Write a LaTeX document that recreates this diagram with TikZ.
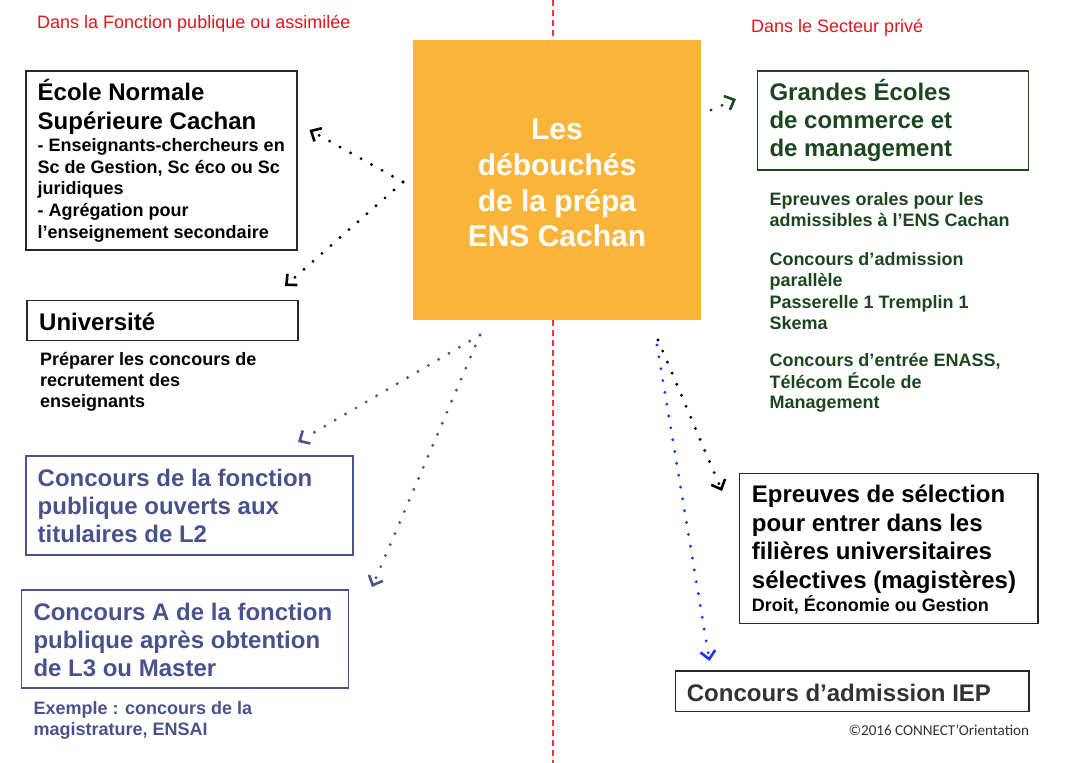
\documentclass[tikz,border=0pt]{standalone}
\usepackage{fontspec}
\setmainfont{Liberation Sans}
\newfontfamily\carlitofont{Carlito}
\usetikzlibrary{arrows.meta,calc}
\definecolor{orangebox}{RGB}{251,180,58}
\definecolor{headred}{RGB}{226,20,30}
\definecolor{sepred}{RGB}{228,60,60}
\definecolor{boxgray}{RGB}{40,40,40}
\definecolor{bluegray}{RGB}{72,82,140}
\definecolor{darkgreen}{RGB}{28,70,30}
\definecolor{arrowblue}{RGB}{30,50,250}
\definecolor{iepgray}{RGB}{50,50,50}
\tikzset{
  boxnode/.style={draw=boxgray, line width=1.4pt, anchor=north west, inner sep=0pt, outer sep=0pt},
  tbig/.style={font=\fontsize{24}{29}\selectfont\bfseries, anchor=base west, inner sep=0pt},
  tsub/.style={font=\fontsize{18}{21}\selectfont\bfseries, anchor=base west, inner sep=0pt},
  thead/.style={font=\fontsize{18}{21}\selectfont, text=headred, anchor=base west, inner sep=0pt},
  tcenter/.style={font=\fontsize{30}{36}\selectfont\bfseries, text=white, anchor=base, inner sep=0pt},
  dotline/.style={line width=3.2pt, line cap=round, dash pattern=on 0pt off 12pt, shorten >=8pt},
  tipline/.style={line width=2.6pt, solid, line cap=butt, -{Straight Barb[length=8pt,width=15pt]}},
}
\newcommand{\dotarrow}[3]{%
  \draw[dotline, #1] (#2) -- (#3);
  \draw[tipline, #1] ($(#3)!4pt!(#2)$) -- (#3);
}
\begin{document}
\begin{tikzpicture}[x=1pt,y=-1pt]
\useasboundingbox (0,0) rectangle (1080,763);

% separator
\coordinate (septop) at (553,0);
\coordinate (sepbot) at (553,763);
\draw[sepred, line width=1.2pt, dash pattern=on 6pt off 4pt] (septop) -- (sepbot);

% headers
\node[thead] (hleft) at (37,28) {Dans la Fonction publique ou assimilée};
\node[thead] (hright) at (751,32) {Dans le Secteur privé};

% central box
\node[fill=orangebox, anchor=north west, minimum width=288pt, minimum height=280pt, inner sep=0pt] (center) at (413,40) {};
\node[tcenter] (c1) at (557,139) {Les};
\node[tcenter] (c2) at (557,175.5) {débouchés};
\node[tcenter] (c3) at (557,211.5) {de la prépa};
\node[tcenter] (c4) at (557,246.5) {ENS Cachan};

% ENS box
\node[boxnode, minimum width=271pt, minimum height=179pt] (ens) at (26,71) {};
\node[tbig] (ens1) at (37.5,100) {École Normale};
\node[tbig] (ens2) at (37.5,129.3) {Supérieure Cachan};
\node[tsub] (ens3) at (37.5,151.7) {- Enseignants-chercheurs en};
\node[tsub] (ens4) at (37.5,173.3) {Sc de Gestion, Sc éco ou Sc};
\node[tsub] (ens5) at (37.5,194.5) {juridiques};
\node[tsub] (ens6) at (37.5,216) {- Agrégation pour};
\node[tsub] (ens7) at (37.5,238.3) {l’enseignement secondaire};

% Université
\node[boxnode, minimum width=271pt, minimum height=40pt] (univ) at (27,300.5) {};
\node[tbig] (univ1) at (39,330.7) {Université};
\node[tsub] (univ2) at (40,365) {Préparer les concours de};
\node[tsub] (univ3) at (40,386.3) {recrutement des};
\node[tsub] (univ4) at (40,407.5) {enseignants};

% Concours fonction publique L2
\node[boxnode, draw=bluegray, minimum width=327pt, minimum height=99pt] (cfp) at (26,456) {};
\node[tbig, text=bluegray] (cfp1) at (37.5,486) {Concours de la fonction};
\node[tbig, text=bluegray] (cfp2) at (37.5,514.3) {publique ouverts aux};
\node[tbig, text=bluegray] (cfp3) at (37.5,542.7) {titulaires de L2};

% Concours A
\node[boxnode, draw=bluegray, minimum width=327pt, minimum height=98pt] (cfa) at (21.7,590) {};
\node[tbig, text=bluegray] (cfa1) at (33.3,620) {Concours A de la fonction};
\node[tbig, text=bluegray] (cfa2) at (33.3,648.3) {publique après obtention};
\node[tbig, text=bluegray] (cfa3) at (33.3,676.7) {de L3 ou Master};
\node[tsub, text=bluegray] (cfa4) at (33.3,714) {Exemple : concours de la};
\node[tsub, text=bluegray] (cfa5) at (33.3,735) {magistrature, ENSAI};

% Grandes Ecoles
\node[boxnode, draw=darkgreen, minimum width=271pt, minimum height=99pt] (ge) at (757.7,71) {};
\node[tbig, text=darkgreen] (ge1) at (769.3,100) {Grandes Écoles};
\node[tbig, text=darkgreen] (ge2) at (769.3,128.3) {de commerce et};
\node[tbig, text=darkgreen] (ge3) at (769.3,156.7) {de management};
\node[tsub, text=darkgreen] (ge4) at (769.3,205.7) {Epreuves orales pour les};
\node[tsub, text=darkgreen] (ge5) at (769.3,226.5) {admissibles à l’ENS Cachan};
\node[tsub, text=darkgreen] (ge6) at (769.3,265) {Concours d’admission};
\node[tsub, text=darkgreen] (ge7) at (769.3,286.7) {parallèle};
\node[tsub, text=darkgreen] (ge8) at (769.3,308.3) {Passerelle 1 Tremplin 1};
\node[tsub, text=darkgreen] (ge9) at (769.3,329.3) {Skema};
\node[tsub, text=darkgreen] (ge10) at (769.3,366.7) {Concours d’entrée ENASS,};
\node[tsub, text=darkgreen] (ge11) at (769.3,388.3) {Télécom École de};
\node[tsub, text=darkgreen] (ge12) at (769.3,408.5) {Management};

% Epreuves de selection
\node[boxnode, minimum width=298.7pt, minimum height=150pt] (eps) at (739.3,473.3) {};
\node[tbig] (eps1) at (751.7,502.7) {Epreuves de sélection};
\node[tbig] (eps2) at (751.7,531) {pour entrer dans les};
\node[tbig] (eps3) at (751.7,559.3) {filières universitaires};
\node[tbig] (eps4) at (751.7,588.3) {sélectives (magistères)};
\node[tsub] (eps5) at (751.7,611.7) {Droit, Économie ou Gestion};

% IEP
\node[boxnode, minimum width=353.7pt, minimum height=40.7pt] (iep) at (675.3,671) {};
\node[tbig, text=iepgray] (iep1) at (686.7,701) {Concours d’admission IEP};

% copyright
\node[anchor=base west, inner sep=0pt, font=\carlitofont\fontsize{15.1}{17}\selectfont, text=iepgray] (copy) at (848.3,735.7) {©2016 CONNECT’Orientation};

% connector end points
\coordinate (sL) at (403,182);
\coordinate (sB) at (480,335);
\coordinate (sR) at (658,340);
\coordinate (sRb) at (657,345);
\coordinate (sG) at (711,110);
\coordinate (eEns) at (309.5,130);
\coordinate (eUniv) at (285,286);
\coordinate (eCfp) at (298,442);
\coordinate (eCfa) at (372,587);
\coordinate (eEps) at (722,491);
\coordinate (eIep) at (709.5,661);
\coordinate (eGe) at (736,99);

\dotarrow{black}{sL}{eEns}
\dotarrow{black}{sL}{eUniv}
\dotarrow{bluegray}{sB}{eCfp}
\dotarrow{bluegray}{sB}{eCfa}
\dotarrow{black}{sR}{eEps}
\dotarrow{arrowblue}{sRb}{eIep}
\dotarrow{darkgreen}{sG}{eGe}
\end{tikzpicture}
\end{document}
